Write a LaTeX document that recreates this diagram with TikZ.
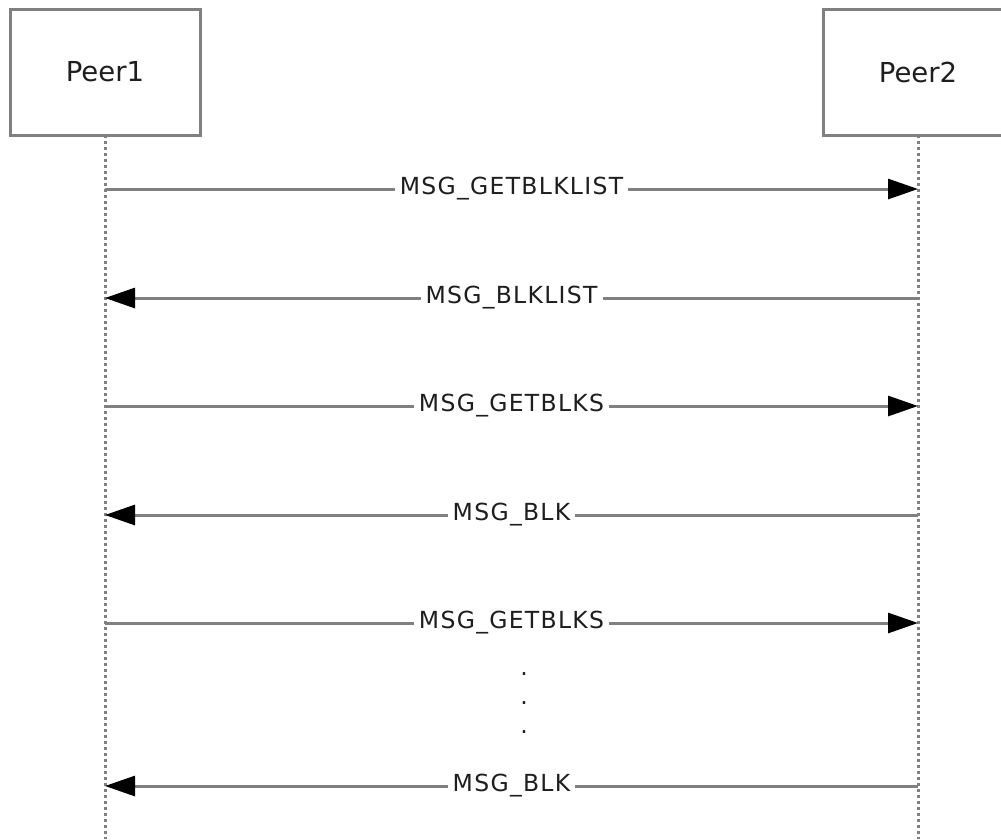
\documentclass[tikz,border=0pt]{standalone}
\usepackage{fontspec}
\setmainfont{DejaVu Sans}
\newfontfamily\msgfont[LetterSpace=5.5]{DejaVu Sans}
\usetikzlibrary{arrows.meta}
\usetikzlibrary{positioning}
\definecolor{linegray}{RGB}{128,128,128}
\definecolor{textgray}{RGB}{30,30,30}

\begin{document}
\begin{tikzpicture}[x=1pt, y=-1pt, >={Triangle[length=30pt,width=20pt,color=black]}]
    \tikzstyle{peer}=[draw=linegray,line width=3pt,minimum width=190pt,minimum height=126pt,inner sep=0pt,outer sep=0pt,text=textgray,font=\fontsize{27.5}{32}\selectfont]
    \tikzstyle{lifeline}=[draw=linegray,line width=3pt,dash pattern=on 3pt off 3pt]
    \tikzstyle{msg}=[draw=linegray,line width=3pt]
    \tikzstyle{msglabel}=[fill=white,text=textgray,inner xsep=5pt,inner ysep=1pt,font=\msgfont\fontsize{23.5}{28}\selectfont]
    \useasboundingbox (0,0) rectangle (1001,839);
    \node[peer]    (peer1) at (105,72)         {Peer1};
    \node[peer]    (peer2) [right=623pt of peer1] {Peer2};
    \coordinate (end1) at (105,839);
    \coordinate (end2) at (918,839);
    \draw[lifeline] (peer1.south) -- (end1);
    \draw[lifeline] (peer2.south) -- (end2);
    % message end points on the two lifelines
    \coordinate (l1) at (105,189);  \coordinate (r1) at (918,189);
    \coordinate (l2) at (105,298);  \coordinate (r2) at (918,298);
    \coordinate (l3) at (105,406);  \coordinate (r3) at (918,406);
    \coordinate (l4) at (105,515);  \coordinate (r4) at (918,515);
    \coordinate (l5) at (105,623);  \coordinate (r5) at (918,623);
    \coordinate (l6) at (105,786);  \coordinate (r6) at (918,786);
    \path
    (l1)
      edge[msg,->]  node[msglabel]{MSG\_GETBLKLIST}  (r1)
    (r2)
      edge[msg,->]  node[msglabel]{MSG\_BLKLIST}     (l2)
    (l3)
      edge[msg,->]  node[msglabel]{MSG\_GETBLKS}     (r3)
    (r4)
      edge[msg,->]  node[msglabel]{MSG\_BLK}         (l4)
    (l5)
      edge[msg,->]  node[msglabel]{MSG\_GETBLKS}     (r5)
    (r6)
      edge[msg,->]  node[msglabel]{MSG\_BLK}         (l6);
    \foreach \y in {674,703,732}
      \node[msglabel,fill=none,inner sep=0pt] (dot\y) at (524,\y) {.};
\end{tikzpicture}
\end{document}
